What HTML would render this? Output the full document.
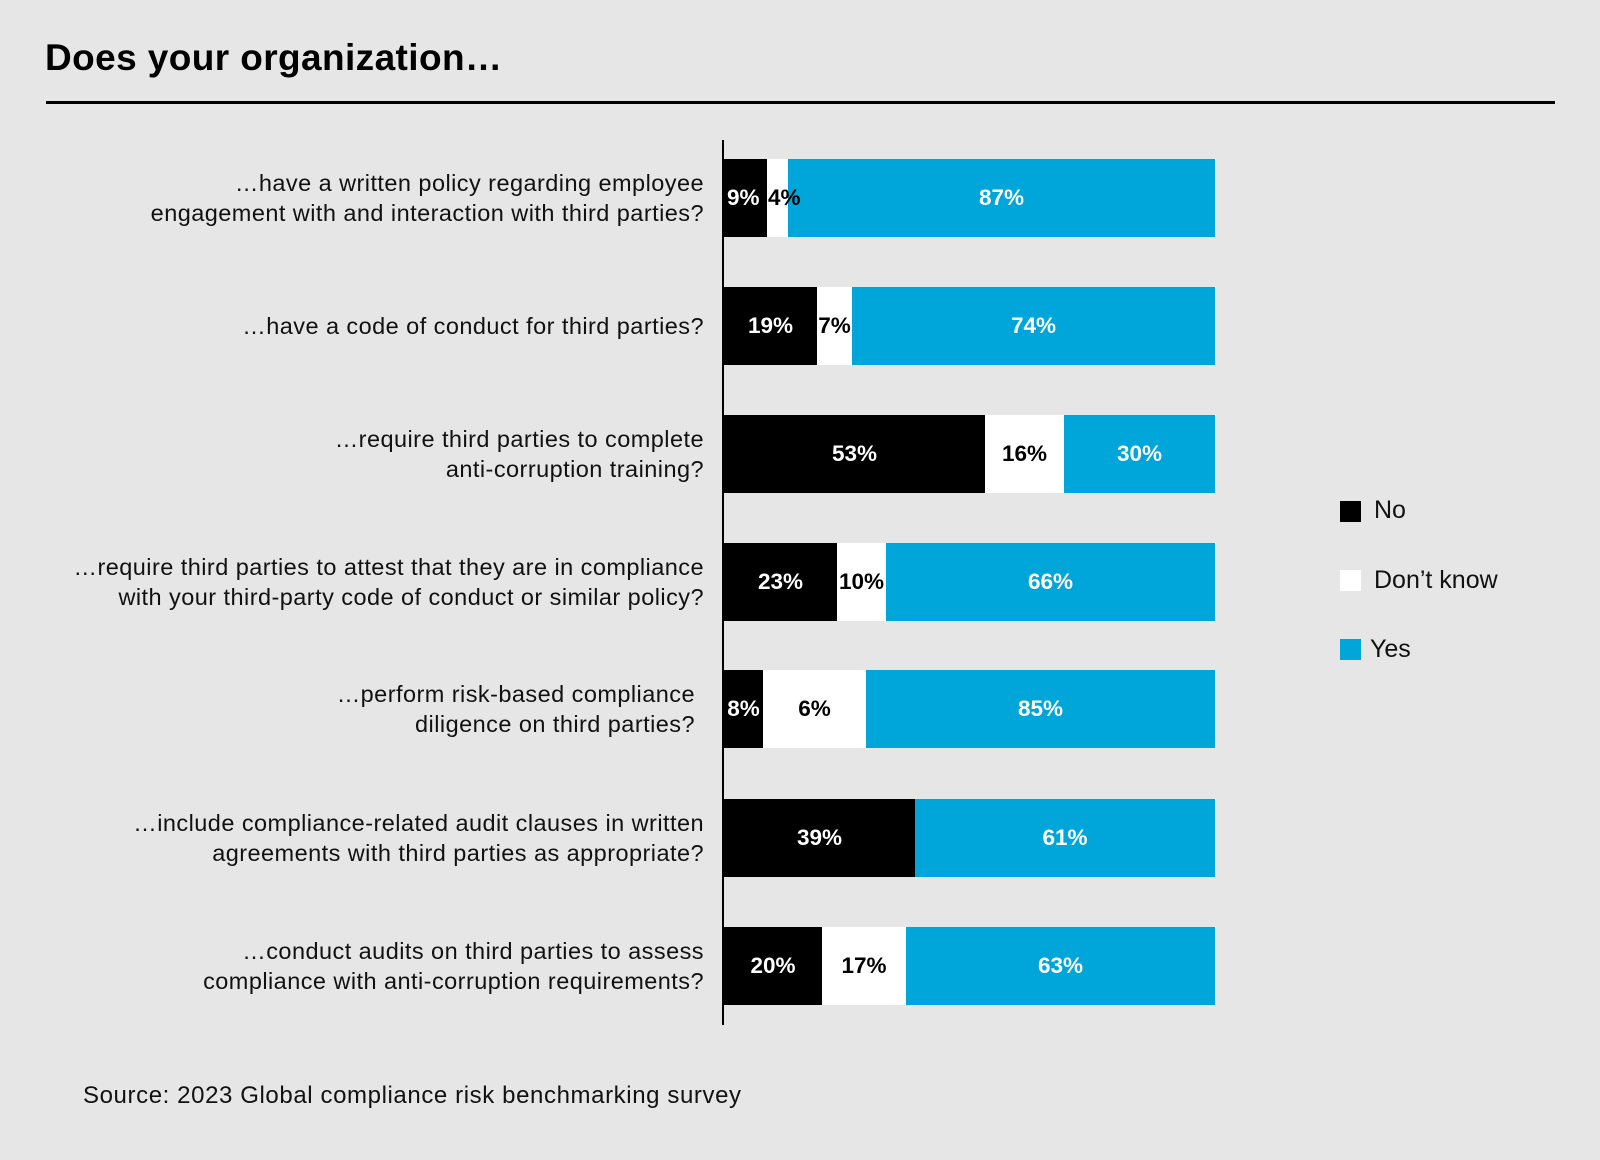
<!DOCTYPE html>
<html><head><meta charset="utf-8"><style>
body{margin:0;width:1600px;height:1160px;background:#e6e6e6;font-family:"Liberation Sans",Arial,sans-serif;position:relative;overflow:hidden}
.a{position:absolute}
.t{font-size:37px;font-weight:bold;left:45px;top:37px;letter-spacing:0.4px}
.lab{position:absolute;right:896px;text-align:right;font-size:23.5px;line-height:29.5px;color:#111;white-space:nowrap;letter-spacing:0.45px}
.bar{position:absolute;height:78px;left:724px;width:491px}
.s{position:absolute;top:0;height:78px;display:flex;align-items:center;justify-content:center;font-weight:bold;font-size:22.5px;white-space:nowrap;overflow:visible}
.s span{position:relative;z-index:5}
.k{background:#000;color:#fff}.w{background:#fff;color:#000}.b{background:#00a6d9;color:#fff}
.lg{position:absolute;font-size:25px;color:#111}
.sq{position:absolute;width:21px;height:21px;left:1340px}
</style></head><body>
<div class="a t">Does your organization…</div>
<div class="a" style="left:46px;top:101px;width:1509px;height:3px;background:#000"></div>
<div class="a" style="left:722px;top:140px;width:2px;height:885px;background:#000"></div>

<div class="lab" style="top:169px">…have a written policy regarding employee<br>engagement with and interaction with third parties?</div>
<div class="lab" style="top:312px">…have a code of conduct for third parties?</div>
<div class="lab" style="top:425px">…require third parties to complete<br>anti-corruption training?</div>
<div class="lab" style="top:553px">…require third parties to attest that they are in compliance<br>with your third-party code of conduct or similar policy?</div>
<div class="lab" style="top:680px;right:905px">…perform risk-based compliance<br>diligence on third parties?</div>
<div class="lab" style="top:809px">…include compliance-related audit clauses in written<br>agreements with third parties as appropriate?</div>
<div class="lab" style="top:937px">…conduct audits on third parties to assess<br>compliance with anti-corruption requirements?</div>

<div class="bar" style="top:159px"><div class="s k" style="left:0;width:43px;justify-content:flex-start"><span style="left:3px">9%</span></div><div class="s w" style="left:43px;width:21px;justify-content:flex-start"><span style="left:1px">4%</span></div><div class="s b" style="left:64px;width:427px"><span>87%</span></div></div>
<div class="bar" style="top:287px"><div class="s k" style="left:0;width:93px"><span>19%</span></div><div class="s w" style="left:93px;width:35px"><span>7%</span></div><div class="s b" style="left:128px;width:363px"><span>74%</span></div></div>
<div class="bar" style="top:415px"><div class="s k" style="left:0;width:261px"><span>53%</span></div><div class="s w" style="left:261px;width:79px"><span>16%</span></div><div class="s b" style="left:340px;width:151px"><span>30%</span></div></div>
<div class="bar" style="top:543px"><div class="s k" style="left:0;width:113px"><span>23%</span></div><div class="s w" style="left:113px;width:49px"><span>10%</span></div><div class="s b" style="left:162px;width:329px"><span>66%</span></div></div>
<div class="bar" style="top:670px"><div class="s k" style="left:0;width:39px"><span>8%</span></div><div class="s w" style="left:39px;width:103px"><span>6%</span></div><div class="s b" style="left:142px;width:349px"><span>85%</span></div></div>
<div class="bar" style="top:799px"><div class="s k" style="left:0;width:191px"><span>39%</span></div><div class="s b" style="left:191px;width:300px"><span>61%</span></div></div>
<div class="bar" style="top:927px"><div class="s k" style="left:0;width:98px"><span>20%</span></div><div class="s w" style="left:98px;width:84px"><span>17%</span></div><div class="s b" style="left:182px;width:309px"><span>63%</span></div></div>

<div class="sq" style="top:501px;background:#000"></div><div class="lg" style="left:1374px;top:496px">No</div>
<div class="sq" style="top:570px;background:#fff"></div><div class="lg" style="left:1374px;top:566px">Don’t know</div>
<div class="sq" style="top:639px;background:#00a6d9"></div><div class="lg" style="left:1370px;top:635px">Yes</div>

<div class="a" style="left:83px;top:1082px;font-size:24px;color:#111;letter-spacing:0.6px">Source: 2023 Global compliance risk benchmarking survey</div>
</body></html>
